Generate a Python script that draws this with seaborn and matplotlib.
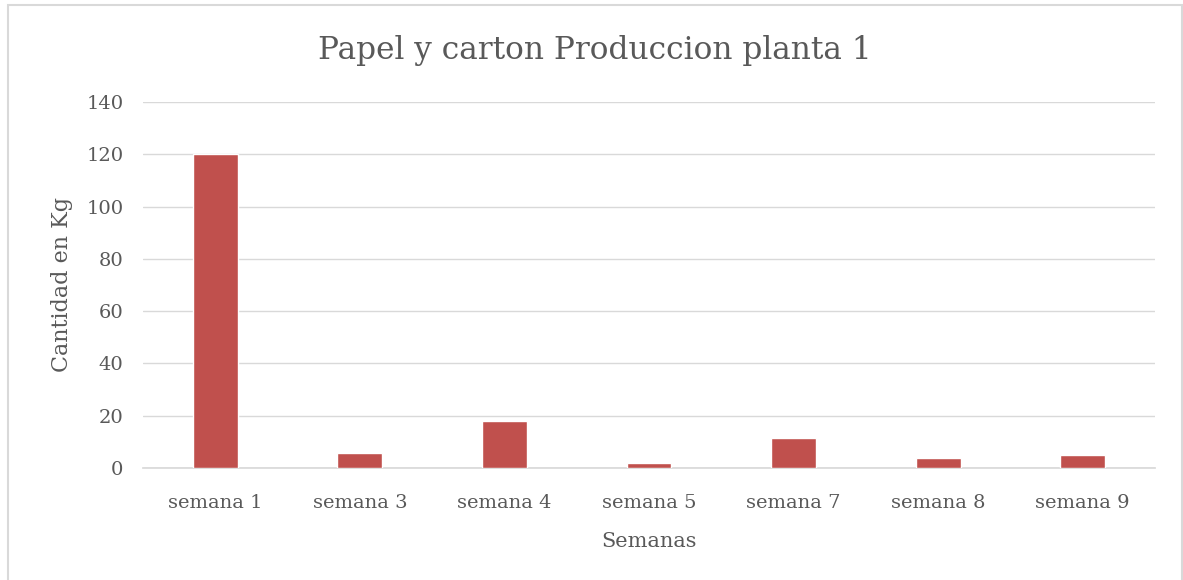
import numpy as np
import pandas as pd
import matplotlib
matplotlib.use('Agg')
import matplotlib.pyplot as plt
import seaborn as sns
from matplotlib.patches import Rectangle

# Datos
semanas = ['semana 1', 'semana 3', 'semana 4', 'semana 5', 'semana 7', 'semana 8', 'semana 9']
cantidad_kg = [120, 5.6, 18, 2, 11.4, 3.8, 4.9]
yticks = [0, 20, 40, 60, 80, 100, 120, 140]

sns.set_theme(style='white')
plt.rcParams['font.family'] = ['DejaVu Serif']

texto = '#595959'
df = pd.DataFrame({'Semanas': semanas, 'Cantidad': cantidad_kg})

fig = plt.figure(figsize=(11.83, 5.8), dpi=100)
ax = fig.add_axes([143 / 1183, 1 - 468 / 580, (1155 - 143) / 1183, (468 - 102) / 580])

sns.barplot(data=df, x='Semanas', y='Cantidad', color='#C0504D', width=0.31,
            saturation=1, ax=ax, zorder=3)

ax.set_ylim(0, 140)
ax.set_yticks(yticks)
ax.grid(axis='y', color='#D9D9D9', linewidth=1, zorder=0)
for s in ['top', 'right', 'left']:
    ax.spines[s].set_visible(False)
ax.spines['bottom'].set_color('#D9D9D9')
ax.tick_params(axis='both', length=0, labelsize=14, colors=texto)
ax.tick_params(axis='x', pad=19)
ax.tick_params(axis='y', pad=14)
ax.set_xlabel('Semanas', fontsize=15, color=texto, labelpad=14)
ax.set_ylabel('Cantidad en Kg', fontsize=16, color=texto, labelpad=10)

fig.text(595 / 1183, 1 - 50 / 580, 'Papel y carton Produccion planta 1',
         ha='center', va='center', fontsize=22.5, color=texto)

# marco exterior del grafico
fig.patches.append(Rectangle((8 / 1183, -0.05), 1 - 9 / 1183, 1 + 0.05 - 5 / 580,
                             transform=fig.transFigure, fill=False,
                             edgecolor='#D9D9D9', linewidth=1.5))

fig.savefig('out.png', dpi=100)
